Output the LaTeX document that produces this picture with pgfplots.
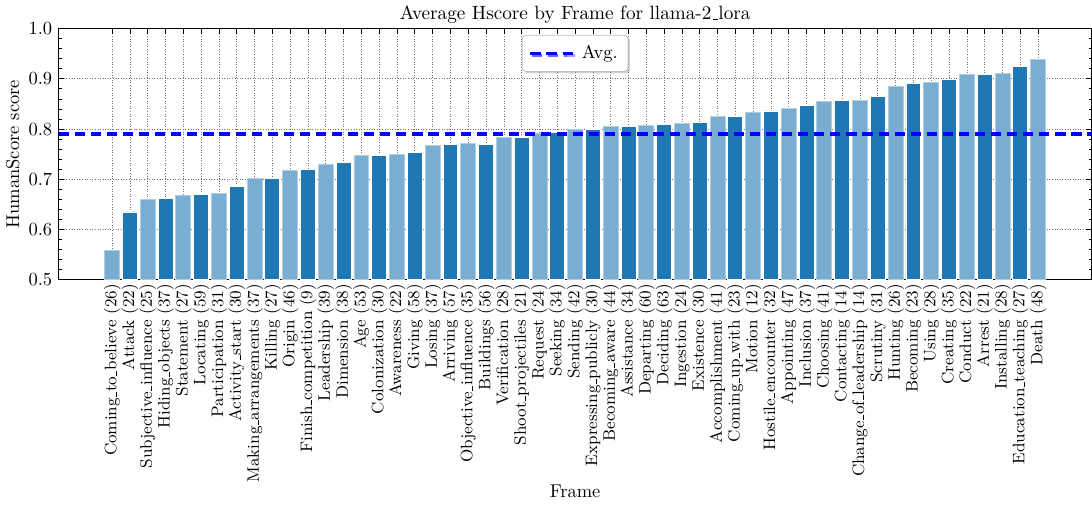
\documentclass[border=0pt]{standalone}
\usepackage{pgfplots}
\pgfplotsset{compat=1.18}
\usetikzlibrary{shadows}
\definecolor{darkb}{RGB}{31,119,180}
\definecolor{lightb}{RGB}{121,173,210}
\definecolor{lightedge}{RGB}{175,206,230}
\renewcommand{\_}{\leavevmode\kern.06em\vbox{\hrule width.3em}}
\begin{document}
\begin{tikzpicture}
\begin{axis}[
  scale only axis,
  width=559pt, height=136pt,
  xmin=-3, xmax=55,
  ymin=0.5, ymax=1.0,
  ytick={0.5,0.6,0.7,0.8,0.9,1.0},
  minor y tick num=4,
  yticklabel style={/pgf/number format/.cd, fixed, fixed zerofill, precision=1},
  xtick={0,...,52},
  xticklabels={Coming\_to\_believe (26),Attack (22),Subjective\_influence (25),Hiding\_objects (37),Statement (27),Locating (59),Participation (31),Activity\_start (30),Making\_arrangements (37),Killing (27),Origin (46),Finish\_competition (9),Leadership (39),Dimension (38),Age (53),Colonization (30),Awareness (22),Giving (58),Losing (37),Arriving (57),Objective\_influence (35),Buildings (56),Verification (28),Shoot\_projectiles (21),Request (24),Seeking (34),Sending (42),Expressing\_publicly (30),Becoming\_aware (44),Assistance (34),Departing (60),Deciding (63),Ingestion (24),Existence (30),Accomplishment (41),Coming\_up\_with (23),Motion (12),Hostile\_encounter (32),Appointing (47),Inclusion (37),Choosing (41),Contacting (14),Change\_of\_leadership (14),Scrutiny (31),Hunting (26),Becoming (23),Using (28),Creating (35),Conduct (22),Arrest (21),Installing (28),Education\_teaching (27),Death (48)},
  xticklabel style={rotate=90, anchor=east, inner sep=2pt, font=\fontsize{9}{10}\selectfont},
  major tick length=3pt, minor tick length=1.6pt,
  tick style={black, line width=0.4pt},
  grid=major,
  major grid style={densely dotted, black!55, line width=0.4pt},
  axis line style={black, line width=0.5pt},
  title={Average Hscore by Frame for llama-2\_lora},
  title style={yshift=-7pt, font=\fontsize{10.4}{12}\selectfont},
  xlabel={Frame},
  xlabel style={yshift=4pt},
  ylabel={HumanScore score},
  ylabel style={yshift=-2pt},
  legend style={at={(0.5,0.975)}, anchor=north, draw=black!25, rounded corners=2pt, fill=white, drop shadow={shadow xshift=1pt, shadow yshift=-1pt, opacity=0.35}, font=\normalsize, inner xsep=3.5pt, inner ysep=3.5pt},
  legend image code/.code={\draw[#1] (0pt,0pt) -- (19pt,0pt); \path (0pt,0pt) -- (25pt,0pt);},
]
\addplot[ybar, bar width=0.84, bar shift=0pt, fill=lightb, draw=lightedge, line width=0.5pt, forget plot] coordinates {
(0,0.558) (2,0.660) (4,0.667) (6,0.671) (8,0.702) (10,0.717) (12,0.730) (14,0.748) (16,0.750) (18,0.767) (20,0.771) (22,0.784) (24,0.791) (26,0.799) (28,0.806) (30,0.808) (32,0.812) (34,0.825) (36,0.833) (38,0.840) (40,0.854) (42,0.857) (44,0.884) (46,0.893) (48,0.909) (50,0.911) (52,0.938)
};
\addplot[ybar, bar width=0.84, bar shift=0pt, fill=darkb, draw=white, line width=0.5pt, forget plot] coordinates {
(1,0.635) (3,0.661) (5,0.669) (7,0.685) (9,0.702) (11,0.720) (13,0.734) (15,0.748) (17,0.754) (19,0.770) (21,0.770) (23,0.784) (25,0.794) (27,0.800) (29,0.806) (31,0.810) (33,0.813) (35,0.825) (37,0.836) (39,0.847) (41,0.857) (43,0.864) (45,0.891) (47,0.899) (49,0.909) (51,0.925)
};
\addplot[blue, line width=1.8pt, dash pattern=on 5.5pt off 3.2pt] coordinates {(-3,0.790) (55,0.790)};
\addlegendentry{Avg.}
\end{axis}
\end{tikzpicture}
\end{document}
